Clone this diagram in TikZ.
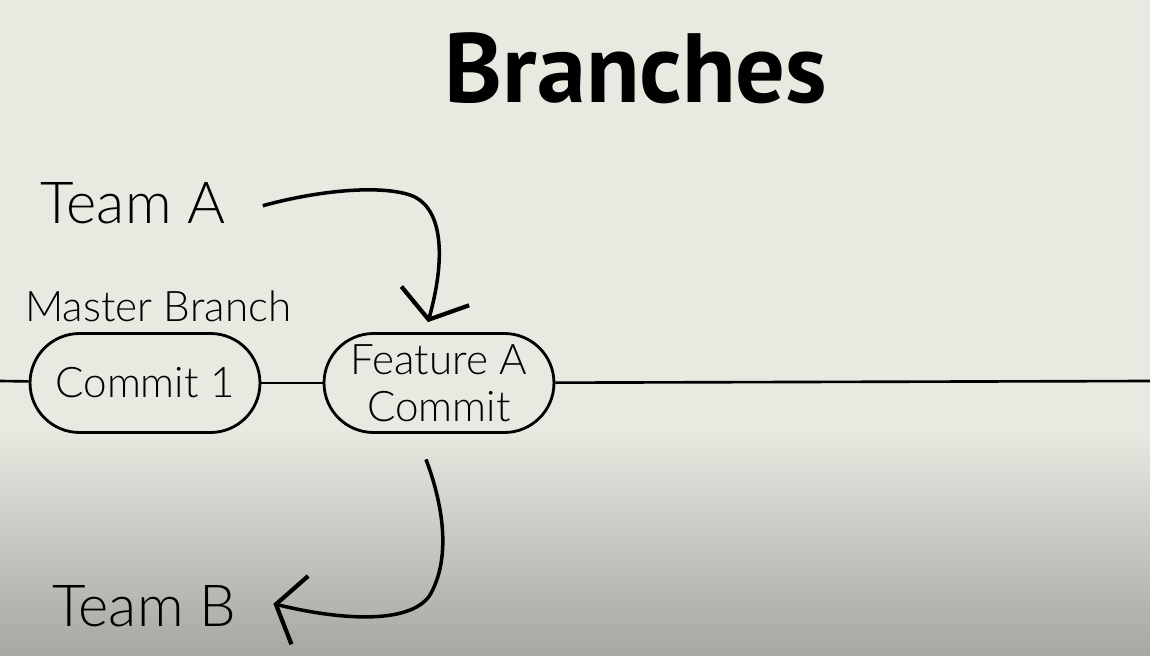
\documentclass[tikz,border=0pt]{standalone}
\usepackage{fontspec}
\setmainfont{Lato}[UprightFont=* Light]
\newfontfamily\titlefont{PT Sans}
\usepackage{xcolor}
\usetikzlibrary{arrows.meta}
\definecolor{paper}{RGB}{232,233,225}
\definecolor{paperdark}{RGB}{166,167,161}
\tikzset{
  commit/.style={draw, line width=1.6pt, fill=paper, rounded corners=0.99cm,
    minimum width=4.6cm, minimum height=1.98cm, align=center, inner sep=0pt,
    font=\fontsize{24}{27}\selectfont},
  label/.style={inner sep=0pt, anchor=base west},
  flow/.style={line width=2pt, -{Straight Barb[length=14pt, width=40pt, line width=2.4pt]}}
}
\begin{document}
\begin{tikzpicture}[x=0.02cm, y=-0.02cm]
  % background
  \fill[paper] (0,0) rectangle (1150,427);
  \shade[top color=paper, bottom color=paperdark] (0,427) rectangle (1150,656);
  \useasboundingbox (0,0) rectangle (1150,656);

  \node[inner sep=0pt, anchor=base] (title) at (636,102) {\titlefont\bfseries\fontsize{56}{58}\selectfont Branches};

  \node[label, font=\fontsize{33}{36}\selectfont] (teama) at (40,223) {Team A};
  \node[label, font=\fontsize{33}{36}\selectfont] (teamb) at (52,626) {Team B};
  \node[label, font=\fontsize{24}{27}\selectfont] (master) at (25,321) {Master Branch};

  \coordinate (lineleft) at (0,381);
  \coordinate (lineright) at (1150,381);
  \node[commit] (commitone) at (145,383) {Commit 1};
  \node[commit] (featurea) at (439,383) {Feature A\\Commit};

  \draw[line width=1.5pt] (lineleft) -- (commitone);
  \draw[line width=1.5pt] (commitone) -- (featurea);
  \draw[line width=1.5pt] (featurea) -- (lineright);

  \draw[flow] ([xshift=0.74cm, yshift=-0.06cm]teama.east) .. controls (320,190) and (380,185) .. (410,195)
    .. controls (440,205) and (448,250) .. ([xshift=-0.22cm, yshift=0.2cm]featurea.north);
  \draw[flow] ([xshift=-0.26cm, yshift=-0.51cm]featurea.south) .. controls (445,510) and (450,560) .. (430,595)
    .. controls (410,625) and (340,620) .. ([xshift=0.74cm, yshift=0.04cm]teamb.east);
\end{tikzpicture}
\end{document}
